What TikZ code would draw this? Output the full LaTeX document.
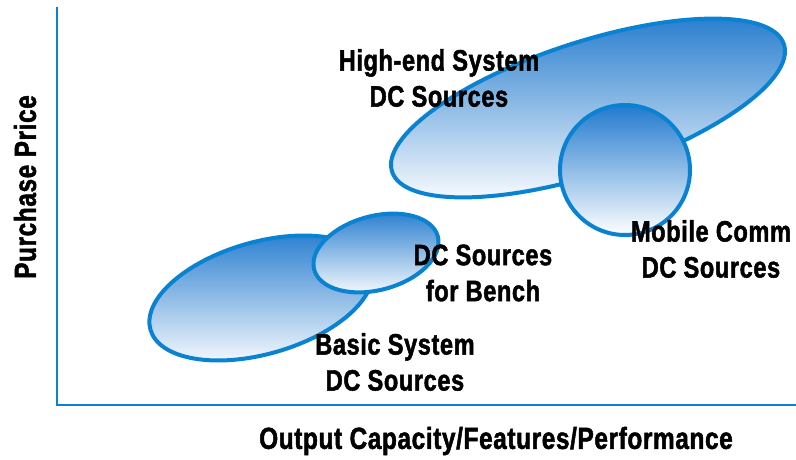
\documentclass[tikz,border=0pt]{standalone}
\usepackage{fontspec}
\setmainfont[FakeStretch=0.8,FakeBold=1.6,LetterSpace=2]{Liberation Sans}
\definecolor{lineblue}{RGB}{10,130,210}
\definecolor{fillblue}{RGB}{34,122,206}
\tikzset{
  blob/.style={top color=fillblue, bottom color=white, draw=lineblue, line width=4pt},
  lbl/.style={font=\fontsize{29.5}{36}\selectfont\bfseries, align=center, inner sep=0pt, text=black},
  axlbl/.style={font=\fontsize{30.5}{36}\selectfont\bfseries, inner sep=0pt, text=black},
  axis/.style={draw=lineblue, line width=2pt}
}
\begin{document}
\begin{tikzpicture}[x=1pt,y=1pt]
\useasboundingbox (0,0) rectangle (796,459);
% axes
\coordinate (top) at (57,452);
\coordinate (orig) at (57,54);
\coordinate (right) at (796,54);
\draw[axis] (top) -- (orig) -- (right);
% ellipses
\shade[blob] (261,161) ellipse [x radius=115, y radius=56, rotate=16];
\shade[blob] (376,206) ellipse [x radius=64, y radius=37, rotate=15];
\shade[blob] (588,351) ellipse [x radius=206, y radius=66, rotate=18];
\shade[blob] (625,289) circle [radius=65];
% labels
\node[lbl] (high) at (439,381) {High-end System\\DC Sources};
\node[lbl] (bench) at (483,186) {DC Sources\\for Bench};
\node[lbl] (basic) at (395,97) {Basic System\\DC Sources};
\node[lbl] (mobile) at (711,210) {Mobile Comm\\DC Sources};
\node[axlbl] (xlab) at (496,18) {Output Capacity/Features/Performance};
\node[axlbl, rotate=90] (ylab) at (25,272) {Purchase Price};
\end{tikzpicture}
\end{document}
